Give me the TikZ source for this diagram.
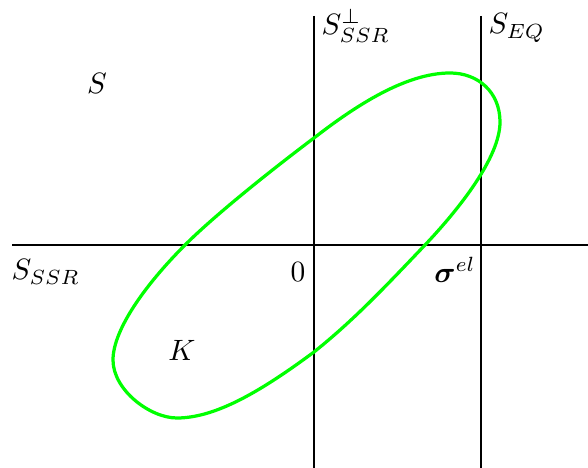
\documentclass[tikz,border=0pt]{standalone}
\usepackage{amsmath,bm}
\begin{document}
\begin{tikzpicture}[x=0.34pt,y=-0.34pt,
  axis/.style={line width=0.6pt},
  region/.style={green!100!black,line width=1.1pt},
  lbl/.style={inner sep=0pt}]
\useasboundingbox (0,0) rectangle (588,468);
\coordinate (hl) at (12,245);
\coordinate (hr) at (588,245);
\coordinate (v1t) at (314,16);
\coordinate (v1b) at (314,468);
\coordinate (v2t) at (481,16);
\coordinate (v2b) at (481,468);
\draw[axis] (hl) -- (hr);
\draw[axis] (v1t) -- (v1b);
\draw[axis] (v2t) -- (v2b);
% points of the region K
\coordinate (kt) at (450,73);
\coordinate (kr) at (500,122);
\coordinate (kc1) at (425,245);
\coordinate (kb1) at (314,352);
\coordinate (kb) at (177,418);
\coordinate (kl) at (113,360);
\coordinate (kc2) at (185,245);
\coordinate (km) at (314,138);
\draw[region] (kt)
  .. controls (478,73) and (500,92) .. (kr)
  .. controls (500,157) and (460,208) .. (kc1)
  .. controls (385,287) and (354,320) .. (kb1)
  .. controls (264,389) and (217,418) .. (kb)
  .. controls (150,418) and (113,390) .. (kl)
  .. controls (113,330) and (145,285) .. (kc2)
  .. controls (217,213) and (278,165) .. (km)
  .. controls (354,107) and (405,73) .. (kt) -- cycle;
\node[lbl,anchor=north west] (sperp) at (321,9) {$S_{SSR}^{\perp}$};
\node[lbl,anchor=north west] (seq) at (488,13) {$S_{EQ}$};
\node[lbl] (s) at (97,83) {$S$};
\node[lbl,anchor=north west] (sssr) at (11,259) {$S_{SSR}$};
\node[lbl] (zero) at (298,272) {$0$};
\node[lbl] (sig) at (455,270) {$\bm{\sigma}^{el}$};
\node[lbl] (k) at (182,350) {$K$};
\end{tikzpicture}
\end{document}
